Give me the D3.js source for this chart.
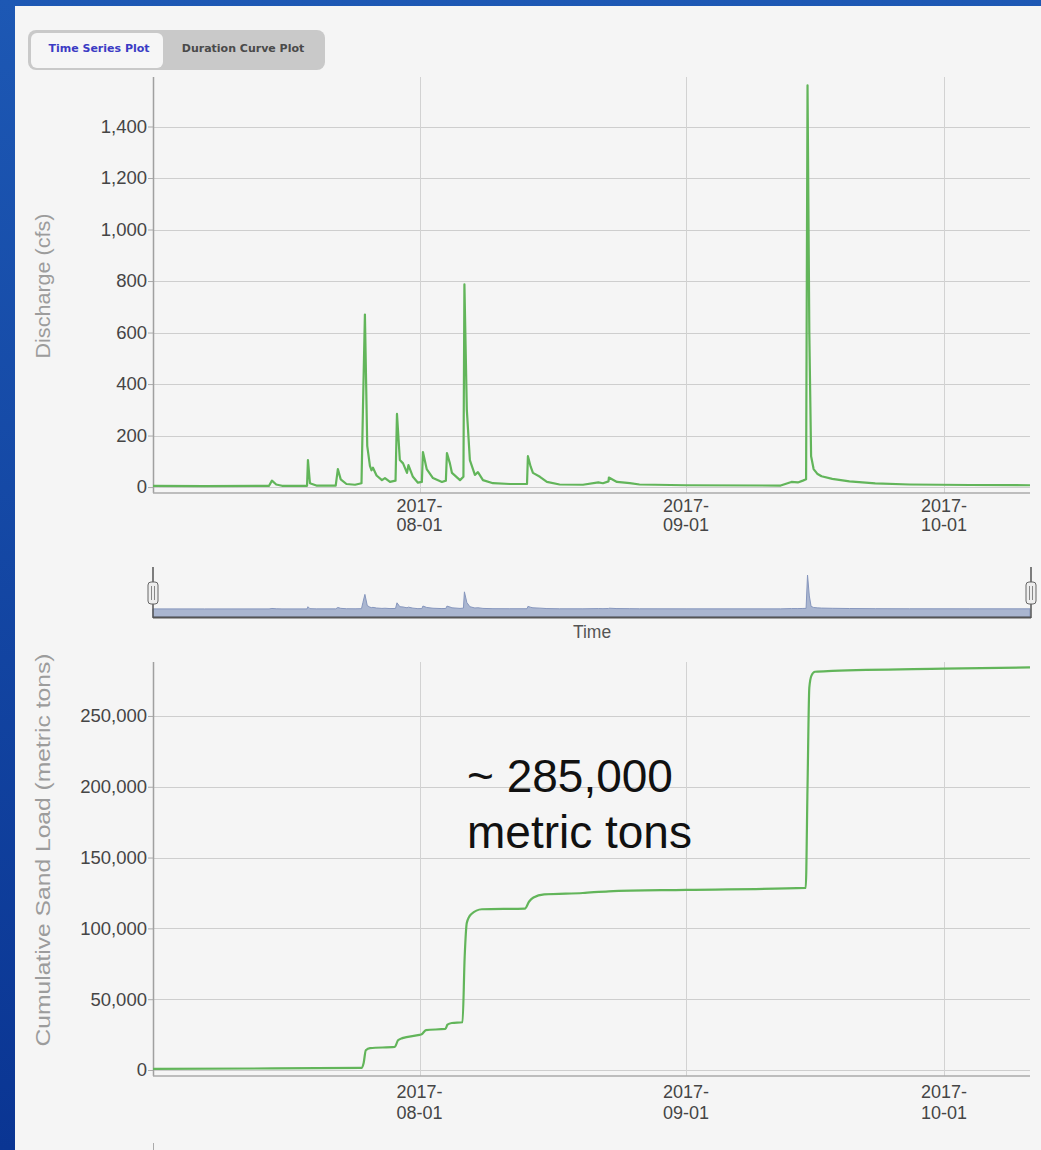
<!DOCTYPE html>
<html>
<head>
<meta charset="utf-8">
<script src="https://cdn.jsdelivr.net/npm/d3@7"></script>
<style>
  html, body { margin: 0; padding: 0; }
  body { width: 1041px; height: 1150px; overflow: hidden;
         background: linear-gradient(#1d58b4, #0a3593); }
  svg { display: block; }
</style>
</head>
<body>
<svg id="chart" width="1041" height="1150"></svg>
<script>
// discharge, cfs
const qTimes = [
  "07-01 00:00","07-07 00:00","07-14 12:00","07-14 20:00","07-15 08:00","07-16 00:00",
  "07-18 22:00","07-19 00:30","07-19 06:00","07-20 00:00","07-22 06:00","07-22 12:00",
  "07-22 20:00","07-23 12:00","07-24 12:00","07-25 06:00","07-25 10:00","07-25 15:30",
  "07-25 22:00","07-26 05:30","07-26 10:00","07-26 14:00","07-27 00:00","07-27 15:00",
  "07-27 23:30","07-28 13:30","07-29 05:00","07-29 09:00","07-29 17:00","07-30 02:00",
  "07-30 13:00","07-30 17:00","07-31 05:30","07-31 19:30","08-01 06:30","08-01 09:30",
  "08-01 20:00","08-02 13:30","08-03 14:30","08-04 01:30","08-04 04:30","08-04 12:45",
  "08-04 18:30","08-05 17:00","08-06 02:30","08-06 05:15","08-06 12:00","08-06 20:30",
  "08-07 10:30","08-07 19:00","08-08 09:00","08-09 13:00","08-11 12:00","08-13 12:00",
  "08-13 14:30","08-13 22:00","08-14 04:30","08-15 00:00","08-15 19:30","08-17 07:00",
  "08-20 00:00","08-21 19:00","08-22 08:00","08-22 23:30","08-23 00:30","08-23 23:00",
  "08-25 11:00","08-26 14:00","09-01 00:00","09-12 00:00","09-13 06:00","09-14 00:00",
  "09-14 14:00","09-14 23:00","09-15 03:00","09-15 08:00","09-15 13:00","09-15 20:00",
  "09-16 06:00","09-16 18:00","09-18 00:00","09-20 00:00","09-23 00:00","09-27 00:00",
  "10-04 00:00","10-11 00:00"
];
const qValues = [
  5, 4, 5, 25, 10, 5,
  5, 105, 15, 6, 6, 70,
  30, 12, 9, 15, 300, 670,
  160, 82, 65, 75, 45, 27,
  35, 20, 25, 284, 105, 92,
  55, 85, 40, 17, 20, 136,
  70, 35, 20, 25, 132, 92,
  55, 27, 40, 787, 300, 105,
  47, 58, 27, 15, 12, 12,
  120, 80, 55, 40, 20, 10,
  9, 18, 15, 22, 37, 20,
  15, 10, 7, 6, 20, 18,
  25, 30, 1560, 600, 120, 70,
  52, 42, 32, 22, 14, 10,
  8, 7
];

// cumulative sand load, metric tons
const loadTimes = [
  "07-01 00:00","07-15 00:00","07-25 06:00","07-25 12:00","07-25 18:00","07-26 06:00",
  "07-29 03:00","07-29 12:00","07-30 00:00","08-01 00:00","08-01 06:00","08-01 18:00",
  "08-04 00:00","08-04 06:00","08-04 18:00","08-06 00:00","08-06 06:00","08-06 12:00",
  "08-07 00:00","08-08 06:00","08-13 06:00","08-13 18:00","08-14 06:00","08-15 12:00",
  "08-20 00:00","08-23 00:00","09-01 00:00","09-14 22:00","09-15 03:00","09-15 08:00",
  "09-15 14:00","09-16 00:00","09-18 00:00","10-01 00:00","10-11 00:00"
];
const loadValues = [
  800, 1100, 1500, 5000, 14000, 15500,
  16300, 21000, 22500, 24800, 25200, 28200,
  29000, 32000, 33200, 33700, 80000, 104000,
  110000, 113500, 114000, 119000, 121800, 124000,
  125000, 126200, 127200, 128600, 200000, 270000,
  278500, 281200, 281800, 283400, 284300
];

const qTicks = [0, 200, 400, 600, 800, 1000, 1200, 1400];
const loadTicks = [0, 50000, 100000, 150000, 200000, 250000];
const monthTicks = ["2017-08-01", "2017-09-01", "2017-10-01"];
const xStart = "2017-07-01", xEnd = "2017-10-11";

const parseT = d3.timeParse("%Y-%m-%d %H:%M");
const parseD = d3.timeParse("%Y-%m-%d");
const q = qTimes.map((t, i) => ({ t: parseT("2017-" + t), v: qValues[i] }));
const load = loadTimes.map((t, i) => ({ t: parseT("2017-" + t), v: loadValues[i] }));

const svg = d3.select("#chart");
const green = "#62b55a";
const fmt = d3.format(",");

// panel
svg.append("rect").attr("x", 15).attr("y", 6).attr("width", 1026).attr("height", 1144)
  .attr("fill", "#f5f5f5");

// toggle buttons
const btn = svg.append("g");
btn.append("rect").attr("x", 28).attr("y", 30).attr("width", 297).attr("height", 40)
  .attr("rx", 8).attr("fill", "#c9c9c9");
btn.append("rect").attr("x", 31).attr("y", 33).attr("width", 132).attr("height", 35)
  .attr("rx", 6).attr("fill", "#f6f6f6");
btn.append("text").attr("x", 99).attr("y", 52).attr("text-anchor", "middle")
  .attr("font-family", "DejaVu Sans").attr("font-size", 11).attr("font-weight", "bold")
  .attr("fill", "#3b3bc4").text("Time Series Plot");
btn.append("text").attr("x", 243).attr("y", 52).attr("text-anchor", "middle")
  .attr("font-family", "DejaVu Sans").attr("font-size", 11).attr("font-weight", "bold")
  .attr("fill", "#4a4a4a").text("Duration Curve Plot");

const x = d3.scaleTime().domain([parseD(xStart), parseD(xEnd)]).range([153, 1030]);

function panel(top, bottom, yScale, ticks, data, curve, title, titleY, titleLen, tickY1, tickY2, id) {
  const g = svg.append("g");
  // horizontal grid
  g.selectAll(".hg").data(ticks).join("line")
    .attr("x1", 153).attr("x2", 1030)
    .attr("y1", d => Math.round(yScale(d)) + 0.5).attr("y2", d => Math.round(yScale(d)) + 0.5)
    .attr("stroke", "#cecece");
  // vertical grid
  g.selectAll(".vg").data(monthTicks).join("line")
    .attr("x1", d => Math.round(x(parseD(d))) + 0.5).attr("x2", d => Math.round(x(parseD(d))) + 0.5)
    .attr("y1", top).attr("y2", bottom)
    .attr("stroke", "#d2d2d2");
  // y axis
  const ya = g.append("g").attr("transform", "translate(153,0)")
    .call(d3.axisLeft(yScale).tickValues(ticks).tickFormat(fmt).tickSize(5).tickPadding(1));
  ya.select(".domain").remove();
  ya.selectAll("line").attr("stroke", "#aaa");
  ya.selectAll("text").attr("font-family", "Liberation Sans, Arial").attr("font-size", 18.5)
    .attr("fill", "#454545");
  g.append("line").attr("x1", 153.5).attr("x2", 153.5).attr("y1", top).attr("y2", bottom)
    .attr("stroke", "#a0a0a0").attr("stroke-width", 1.5);
  // x axis line
  g.append("line").attr("x1", 153).attr("x2", 1030).attr("y1", bottom).attr("y2", bottom)
    .attr("stroke", "#aaa").attr("stroke-width", 1.5);
  // x tick labels in two lines
  const xl = g.selectAll(".xl").data(monthTicks).join("text")
    .attr("text-anchor", "middle").attr("font-family", "Liberation Sans, Arial")
    .attr("font-size", 18).attr("fill", "#454545");
  xl.append("tspan").attr("x", d => x(parseD(d))).attr("y", tickY1).text(d => d.slice(0, 5));
  xl.append("tspan").attr("x", d => x(parseD(d))).attr("y", tickY2).text(d => d.slice(5));
  // title
  g.append("text").attr("transform", `translate(50,${titleY}) rotate(-90)`)
    .attr("text-anchor", "middle").attr("font-family", "Liberation Sans, Arial")
    .attr("font-size", 21).attr("fill", "#9c9c9c")
    .attr("textLength", titleLen).attr("lengthAdjust", "spacingAndGlyphs")
    .text(title);
  // line
  svg.append("clipPath").attr("id", id).append("rect")
    .attr("x", 153).attr("y", top).attr("width", 877).attr("height", bottom - top);
  g.append("path").datum(data).attr("clip-path", `url(#${id})`)
    .attr("fill", "none").attr("stroke", green).attr("stroke-width", 2.2)
    .attr("stroke-linejoin", "round")
    .attr("d", d3.line().x(d => x(d.t)).y(d => yScale(d.v)).curve(curve));
}

const yQ = d3.scaleLinear().domain([-23, 1600]).range([493, 75]);
panel(77, 493, yQ, qTicks, q, d3.curveLinear, "Discharge (cfs)", 286, 145, 512, 531, "clipQ");

const yL = d3.scaleLinear().domain([-4237, 288100]).range([1076, 662]);
panel(662, 1076, yL, loadTicks, load, d3.curveMonotoneX,
  "Cumulative Sand Load (metric tons)", 850, 393, 1098, 1119, "clipL");

// navigator
const yN = d3.scaleLinear().domain([0, 1560]).range([609, 575]);
const nav = svg.append("g");
nav.append("path").datum(q)
  .attr("fill", "#aab6d0").attr("stroke", "#8696bd").attr("stroke-width", 1)
  .attr("d", d3.area().x(d => x(d.t)).y0(617).y1(d => yN(d.v)));
nav.append("line").attr("x1", 153).attr("x2", 1031).attr("y1", 617.5).attr("y2", 617.5)
  .attr("stroke", "#555").attr("stroke-width", 2);
[153, 1031].forEach(hx => {
  nav.append("line").attr("x1", hx).attr("x2", hx).attr("y1", 567).attr("y2", 618)
    .attr("stroke", "#555").attr("stroke-width", 1.5);
  nav.append("rect").attr("x", hx - 5).attr("y", 582).attr("width", 10).attr("height", 22)
    .attr("rx", 3).attr("fill", "#eee").attr("stroke", "#666");
  nav.append("line").attr("x1", hx - 1.5).attr("x2", hx - 1.5).attr("y1", 586).attr("y2", 600)
    .attr("stroke", "#888");
  nav.append("line").attr("x1", hx + 1.5).attr("x2", hx + 1.5).attr("y1", 586).attr("y2", 600)
    .attr("stroke", "#888");
});
nav.append("text").attr("x", 592).attr("y", 638).attr("text-anchor", "middle")
  .attr("font-family", "Liberation Sans, Arial").attr("font-size", 17.5).attr("fill", "#555")
  .text("Time");

// annotation
const note = svg.append("text").attr("font-family", "Liberation Sans, Arial")
  .attr("font-size", 46).attr("fill", "#111");
note.append("tspan").attr("x", 467).attr("y", 792).text("~ " + fmt(285000));
note.append("tspan").attr("x", 467).attr("y", 848).text("metric tons");

// stub of the next axis at the bottom edge
svg.append("line").attr("x1", 153.5).attr("x2", 153.5).attr("y1", 1143).attr("y2", 1150)
  .attr("stroke", "#aaa");
</script>
</body>
</html>
